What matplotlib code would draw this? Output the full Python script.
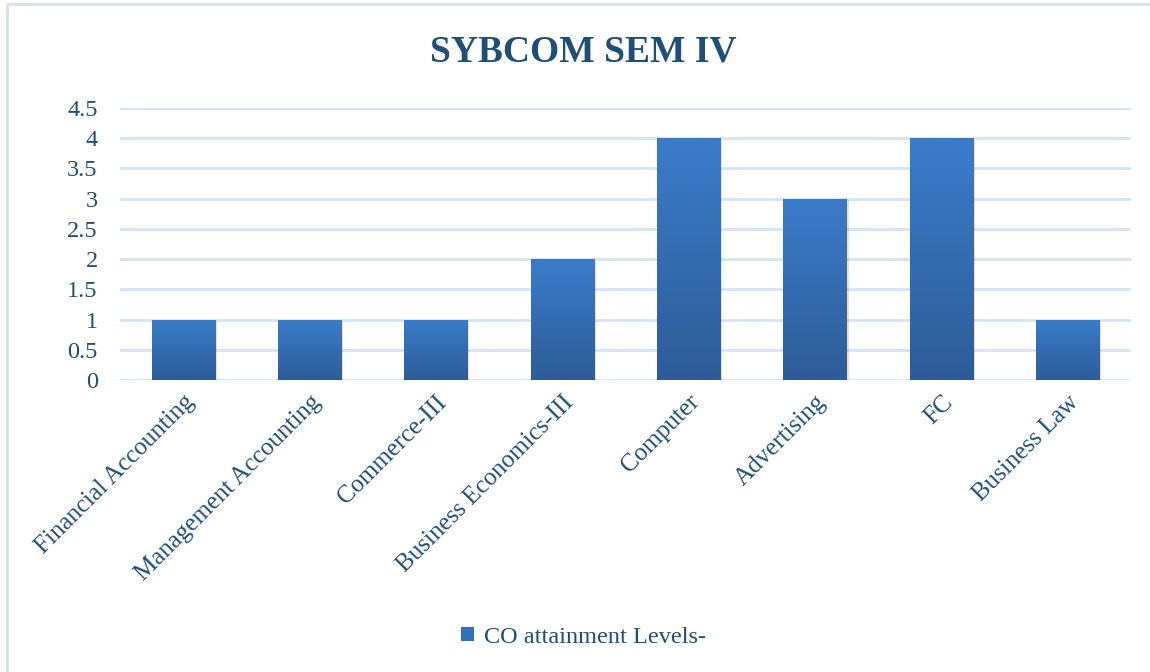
import numpy as np
import matplotlib
matplotlib.use("Agg")
import matplotlib.pyplot as plt
from matplotlib.patches import Rectangle, Patch
from matplotlib.lines import Line2D
from matplotlib.colors import LinearSegmentedColormap

# ---------------------------------------------------------
# Data
# ---------------------------------------------------------
subjects = ["Financial Accounting", "Management Accounting", "Commerce-III",
            "Business Economics-III", "Computer", "Advertising", "FC",
            "Business Law"]
levels = [1, 1, 1, 2, 4, 3, 4, 1]
yticks = [0, 0.5, 1, 1.5, 2, 2.5, 3, 3.5, 4, 4.5]
ytick_labels = ["0", "0.5", "1", "1.5", "2", "2.5", "3", "3.5", "4", "4.5"]

TEXT = "#1f4e79"
GRID = "#d5e3f4"
FONT = "Liberation Serif"

fig = plt.figure(figsize=(11.5, 6.72), dpi=100)
# outer chart frame (only left and top edges are inside the picture)
fig.lines.append(Line2D([7 / 1150, 7 / 1150, 1.0], [0.0, 1 - 4 / 672, 1 - 4 / 672],
                        transform=fig.transFigure, color=GRID, linewidth=2.2))

ax = fig.add_axes([120 / 1150, 1 - 380 / 672, (1131 - 120) / 1150, (380 - 108) / 672])
x = np.arange(len(subjects))
bars = ax.bar(x, levels, width=0.5, color="#3470b5", zorder=3)

# vertical gradient on each bar
cmap = LinearSegmentedColormap.from_list("barg", ["#2d5c98", "#3b7cca"])
grad = np.linspace(0, 1, 256).reshape(-1, 1)
for b in bars:
    x0, w, h = b.get_x(), b.get_width(), b.get_height()
    # faint shadow
    ax.add_patch(Rectangle((x0 + 0.015, -0.03), w, h, color="#000000", alpha=0.12,
                           zorder=2, linewidth=0))
    im = ax.imshow(grad, cmap=cmap, origin="lower", aspect="auto",
                   extent=(x0, x0 + w, 0, h), zorder=4)
    im.set_clip_path(b)

ax.set_xlim(-0.5, len(subjects) - 0.5)
ax.set_ylim(0, 4.5)
ax.set_yticks(yticks)
ax.set_yticklabels(ytick_labels, family=FONT, fontsize=17.5, color=TEXT)
ax.set_xticks(x)
ax.set_xticklabels(subjects, rotation=45, ha="right", rotation_mode="anchor",
                   family=FONT, fontsize=18, color=TEXT)
ax.tick_params(axis="y", length=0, pad=16)
ax.tick_params(axis="x", length=0, pad=8)
ax.grid(axis="y", color=GRID, linewidth=2, zorder=0)
for s in ax.spines.values():
    s.set_visible(False)

fig.text(0.507, 0.922, "SYBCOM SEM IV", ha="center", va="center",
         family=FONT, fontsize=27, fontweight="bold", color=TEXT)

fig.legend(handles=[Patch(facecolor="#3470b5", label="CO attainment Levels-")],
           loc="center", bbox_to_anchor=(0.507, 0.052), frameon=False,
           prop={"family": FONT, "size": 17.5}, labelcolor=TEXT,
           handlelength=0.55, handleheight=0.55, handletextpad=0.4)

fig.savefig("out.png", dpi=100)
